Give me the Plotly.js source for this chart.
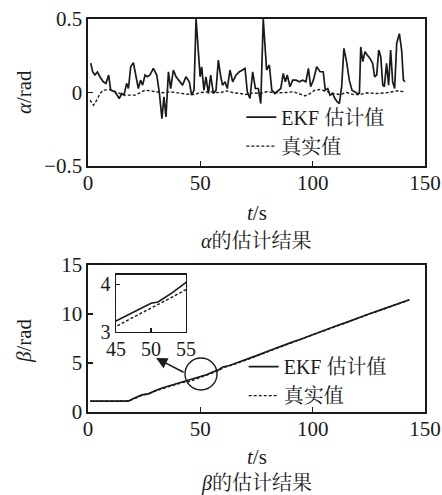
<!DOCTYPE html>
<html>
<head>
<meta charset="utf-8">
<script src="https://cdn.plot.ly/plotly-3.0.1.min.js"></script>
<style>html,body{margin:0;padding:0;background:#fff;}#chart{width:442px;height:495px;}</style>
</head>
<body>
<div id="chart"></div>
<script>
// ---- alpha estimation (top panel) ----
const tAlphaEKF = [1.2,2.1,3.1,4.2,5.3,6.8,8.0,9.2,10.1,12.0,13.9,15.0,16.0,17.2,18.0,19.0,20.2,21.4,22.4,23.4,24.3,25.4,26.4,27.6,29.1,30.6,31.8,32.9,33.8,34.7,35.8,36.8,38.0,39.2,40.7,42.1,43.6,45.1,46.1,47.2,48.1,49.3,49.9,50.6,51.6,52.5,53.6,54.6,55.8,57.0,58.0,59.1,59.9,61.0,62.0,63.2,64.4,65.9,67.4,68.8,69.9,70.9,72.1,73.3,74.5,75.8,76.9,78.0,79.5,80.7,81.8,83.2,84.7,85.8,86.9,87.8,88.7,89.9,91.1,92.6,94.1,95.5,97.0,98.1,99.1,100.3,101.8,103.3,104.7,105.6,106.7,107.7,108.9,109.9,111.0,111.9,112.9,113.9,115.1,116.3,117.5,118.7,119.9,120.8,121.4,122.3,123.3,124.3,125.5,126.7,127.6,128.5,129.4,130.3,131.2,131.9,132.9,133.8,134.7,135.6,136.5,137.4,138.6,139.6,140.4,141.1];
const alphaEKF = [0.20,0.14,0.12,0.14,0.107,0.073,0.062,0.119,0.016,0.005,-0.041,-0.007,-0.018,0.062,0.027,0.175,0.203,0.119,0.027,0.084,0.05,0.119,0.107,0.119,0.164,0.119,-0.007,-0.178,-0.030,-0.166,0.141,0.027,0.153,0.107,0.073,0.05,0.107,0.073,-0.018,0.016,0.50,0.232,0.107,0.175,0.016,0.107,-0.007,0.119,-0.007,0.016,0.221,0.107,0.05,0.073,0.027,0.153,0.073,0.119,0.141,0.153,0.164,0.005,-0.041,0.141,0.027,0.027,-0.075,0.50,0.153,0.187,0.016,-0.007,0.016,0.027,0.130,0.073,0.119,0.039,0.084,0.084,0.073,0.084,0.073,0.164,0.039,0.084,0.175,0.141,0.141,0.016,0.027,-0.018,-0.007,-0.041,-0.064,-0.075,0.039,0.30,0.21,0.084,0.016,0.005,-0.007,-0.007,0.31,0.21,0.278,0.255,0.232,0.198,0.107,0.119,0.289,0.244,0.05,0.039,0.198,0.05,0.289,0.073,0.027,0.335,0.40,0.289,0.084,0.073];
const tAlphaTrue = [0.9,2.4,3.9,5.3,6.8,9.8,12.0,14.2,16.5,18.7,20.9,23.1,25.4,27.6,30.6,33.5,36.5,39.5,43.9,47.6,49.9,54.3,58.8,61.7,64.7,67.7,70.6,73.6,76.6,79.5,84.0,88.4,91.4,94.4,96.6,98.8,101.0,103.3,106.2,109.2,112.2,115.1,118.1,121.1,124.0,128.5,132.9,137.4,141.1];
const alphaTrue = [-0.052,-0.087,-0.052,-0.007,0.016,0.02,0.005,-0.007,-0.018,-0.018,-0.018,-0.002,0.016,0.011,0.005,-0.002,0.005,-0.002,-0.011,-0.014,0.0,0.005,-0.002,0.011,-0.002,-0.007,-0.014,-0.002,-0.007,0.005,-0.002,0.0,0.005,-0.011,-0.023,-0.007,0.016,0.02,0.005,-0.007,-0.014,0.0,-0.014,-0.014,-0.002,-0.007,-0.002,0.011,0.005];

// ---- beta estimation (bottom panel) ----
const tBeta = [1,5,10,15,18,21,24,27,30,33,36,39,42,45,47,49,50,51,53,55,58,60,63,66,70,75,80,85,90,95,100,105,110,115,120,125,130,135,140,143];
const betaEKF = [1.1,1.1,1.1,1.1,1.12,1.45,1.75,1.85,2.2,2.45,2.65,2.85,3.05,3.23,3.38,3.52,3.60,3.63,3.82,4.04,4.3,4.6,4.75,5.0,5.3,5.75,6.2,6.65,7.05,7.45,7.9,8.3,8.75,9.15,9.6,10.0,10.4,10.8,11.2,11.45];
const betaTrue = [1.1,1.1,1.1,1.1,1.12,1.4,1.7,1.9,2.15,2.4,2.6,2.8,3.0,3.11,3.27,3.42,3.5,3.57,3.73,3.89,4.2,4.5,4.7,4.95,5.28,5.72,6.18,6.62,7.02,7.42,7.88,8.28,8.72,9.12,9.58,9.98,10.38,10.78,11.18,11.43];

const xTicks = [0,50,100,150];
const alphaTicks = [-0.5,0,0.5];
const betaTicks = [0,5,10,15];
const insetXTicks = [45,50,55];
const insetYTicks = [3,4];

const CJK = s => '<span style="font-family:Noto Serif CJK SC">' + s + '</span>';
const nameEKF = 'EKF ' + CJK('估计值');
const nameTrue = CJK('真实值');

const FONT = 'Liberation Serif';
const INK = '#1a1a1a';
const dashTrue = '3px,2px';

const traces = [
  {x:tAlphaEKF, y:alphaEKF, name:nameEKF, mode:'lines', line:{color:INK,width:1.7}, xaxis:'x', yaxis:'y', legend:'legend'},
  {x:tAlphaTrue, y:alphaTrue, name:nameTrue, mode:'lines', line:{color:INK,width:1.4,dash:dashTrue}, xaxis:'x', yaxis:'y', legend:'legend'},
  {x:tBeta, y:betaEKF, name:nameEKF, mode:'lines', line:{color:INK,width:1.7}, xaxis:'x2', yaxis:'y2', legend:'legend2'},
  {x:tBeta, y:betaTrue, name:nameTrue, mode:'lines', line:{color:INK,width:1.4,dash:dashTrue}, xaxis:'x2', yaxis:'y2', legend:'legend2'},
  {x:tBeta, y:betaEKF, mode:'lines', line:{color:INK,width:1.6}, xaxis:'x3', yaxis:'y3', showlegend:false},
  {x:tBeta, y:betaTrue, mode:'lines', line:{color:INK,width:1.4,dash:dashTrue}, xaxis:'x3', yaxis:'y3', showlegend:false}
];

const axBase = {showline:true, linecolor:INK, linewidth:1.6, mirror:true, ticks:'inside', ticklen:5, tickwidth:1.4, tickcolor:INK, showgrid:false, zeroline:false, tickfont:{family:FONT,size:21,color:INK}};

const layout = {
  width:442, height:495,
  margin:{l:88, r:17, t:19, b:83},
  paper_bgcolor:'#fff', plot_bgcolor:'#fff',
  font:{family:FONT, size:21, color:INK},
  showlegend:true,
  xaxis: Object.assign({}, axBase, {domain:[0,1], anchor:'y', range:[0,150], tickvals:xTicks, ticklabelstandoff:-3}),
  yaxis: Object.assign({}, axBase, {domain:[0.626,1], anchor:'x', range:[-0.5,0.5], tickvals:alphaTicks}),
  xaxis2: Object.assign({}, axBase, {domain:[0,1], anchor:'y2', range:[0,150], tickvals:xTicks, ticklabelstandoff:-3}),
  yaxis2: Object.assign({}, axBase, {domain:[0,0.374], anchor:'x2', range:[0,15], tickvals:betaTicks}),
  xaxis3: Object.assign({}, axBase, {domain:[0.083,0.291], anchor:'y3', range:[45,55], tickvals:insetXTicks, ticklen:4, linewidth:1.4, ticklabelstandoff:-1, tickfont:{family:FONT,size:20,color:INK}}),
  yaxis3: Object.assign({}, axBase, {domain:[0.204,0.349], anchor:'x3', range:[3,4.2], tickvals:insetYTicks, ticklen:4, linewidth:1.4, tickfont:{family:FONT,size:20,color:INK}}),
  legend:{x:0.455, y:0.8, xanchor:'left', yanchor:'top', bgcolor:'rgba(0,0,0,0)', borderwidth:0, font:{family:FONT,size:20,color:INK}, tracegroupgap:0},
  legend2:{x:0.462, y:0.165, xanchor:'left', yanchor:'top', bgcolor:'rgba(0,0,0,0)', borderwidth:0, font:{family:FONT,size:20,color:INK}, tracegroupgap:0},
  shapes:[
    {type:'circle', xref:'x2', yref:'y2', xsizemode:'pixel', ysizemode:'pixel', xanchor:50.3, yanchor:3.88, x0:-16, x1:16, y0:-16, y1:16, line:{color:INK,width:1.4}}
  ],
  annotations:[
    {xref:'paper', yref:'paper', x:0.5, y:0.506, xanchor:'center', yanchor:'middle', text:'<i>t</i>/s', showarrow:false, font:{family:FONT,size:21}},
    {xref:'paper', yref:'paper', x:0.5, y:0.438, xanchor:'center', yanchor:'middle', text:'<i>α</i>' + CJK('的估计结果'), showarrow:false, font:{family:FONT,size:20}},
    {xref:'paper', yref:'paper', x:0.5, y:-0.115, xanchor:'center', yanchor:'middle', text:'<i>t</i>/s', showarrow:false, font:{family:FONT,size:21}},
    {xref:'paper', yref:'paper', x:0.5, y:-0.176, xanchor:'center', yanchor:'middle', text:'<i>β</i>' + CJK('的估计结果'), showarrow:false, font:{family:FONT,size:20}},
    {xref:'paper', yref:'paper', x:-0.19, y:0.814, xanchor:'center', yanchor:'middle', text:'<i>α</i>/rad', textangle:-90, showarrow:false, font:{family:FONT,size:21}},
    {xref:'paper', yref:'paper', x:-0.19, y:0.183, xanchor:'center', yanchor:'middle', text:'<i>β</i>/rad', textangle:-90, showarrow:false, font:{family:FONT,size:21}},
    {xref:'x2', yref:'y2', x:30.3, y:5.51, ax:29, ay:15, text:'', showarrow:true, arrowhead:2, arrowsize:1.4, arrowwidth:1.6, arrowcolor:INK}
  ]
};

Plotly.newPlot('chart', traces, layout, {displayModeBar:false, staticPlot:true});
</script>
</body>
</html>
